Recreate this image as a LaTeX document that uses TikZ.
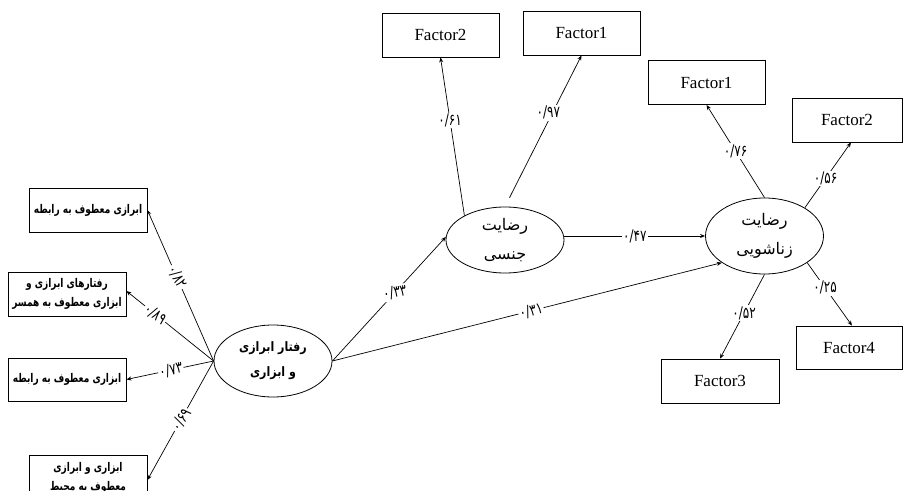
\documentclass[tikz,border=0pt]{standalone}
\usepackage{fontspec}
\setmainfont{Liberation Serif}
\newfontfamily\fa[Script=Arabic]{DejaVu Sans}
\newfontfamily\fan[Script=Arabic,FakeStretch=0.75]{DejaVu Sans}
\newfontfamily\fae[Script=Arabic,FakeStretch=0.85]{DejaVu Sans}
\newfontfamily\fad[Script=Arabic,FakeStretch=0.75]{DejaVu Sans}
\TeXXeTstate=1
\usetikzlibrary{shapes.geometric,arrows.meta,calc}
\tikzset{
 fbox/.style={draw, line width=0.8pt, minimum width=117pt, minimum height=44pt, inner sep=0pt, font=\fontsize{17}{20}\selectfont},
 pbox/.style={draw, line width=0.8pt, minimum width=118pt, minimum height=44pt, inner sep=0pt, align=center, font=\fan\bfseries\fontsize{12}{19}\selectfont},
 lat/.style={draw, ellipse, line width=0.8pt, minimum width=118pt, inner sep=0pt, align=center, font=\fa\fontsize{16}{29}\selectfont},
 arr/.style={line width=0.7pt, -{Stealth[length=5pt,width=4pt]}},
 lab/.style={fill=white, inner sep=1.2pt, font=\fad\fontsize{16}{17}\selectfont},
}
\begin{document}
\begin{tikzpicture}[x=1pt,y=-1pt]
\useasboundingbox (0,0) rectangle (904,497);
% top factors
\node[fbox] (f2t) at (440.5,35) {Factor2};
\node[fbox] (f1t) at (581.5,33) {Factor1};
% right factors
\node[fbox] (f1r) at (706.5,82.5) {Factor1};
\node[fbox, minimum width=110pt] (f2r) at (847,120) {Factor2};
\node[fbox, minimum width=118pt] (f3r) at (720,381) {Factor3};
\node[fbox, minimum width=106pt, minimum height=43pt] (f4r) at (849,347.5) {Factor4};
% left boxes
\node[pbox] (b1) at (88,210) {\beginR ابرازی معطوف به رابطه\endR};
\node[pbox] (b2) at (67,294) {\beginR رفتارهای ابرازی و\endR\\\beginR ابزاری معطوف به همسر\endR};
\node[pbox, minimum height=43pt] (b3) at (67,379.5) {\beginR ابزاری معطوف به رابطه\endR};
\begin{scope}
\clip (0,0) rectangle (904,490);
\node[pbox, minimum height=46pt] (b4) at (88,478) {\beginR ابزاری و ابرازی\endR\\\beginR معطوف به محیط\endR};
\end{scope}
% latent variables
\node[lat, minimum height=72pt, font=\fae\bfseries\fontsize{13}{25}\selectfont] (e1) at (273,361) {\beginR رفتار ابرازی\endR\\\beginR و ابزاری\endR};
\node[lat, minimum height=66pt] (e2) at (505,240) {\beginR رضایت\endR\\\beginR جنسی\endR};
\node[lat, minimum height=76pt] (e3) at (764.5,236) {\beginR رضایت\endR\\\beginR زناشویی\endR};
% left loadings
\draw[arr] (e1.west) -- node[lab, pos=0.58, rotate=-62, xshift=4pt] {۰/۸۲} (b1.east);
\draw[arr] (e1.west) -- node[lab, pos=0.67, rotate=-37] {۰/۸۹} ([yshift=3pt]b2.east);
\draw[arr] (e1.west) -- node[lab, pos=0.49, rotate=12] {۰/۷۳} (b3.east);
\draw[arr] (e1.west) -- node[lab, pos=0.53, rotate=58, xshift=5pt] {۰/۶۹} ([yshift=-2pt]b4.east);
% structural paths
\draw[arr] (e1.east) -- node[lab, pos=0.55, rotate=10] {۰/۳۳} (e2.177);
\draw[arr] (e1.east) -- node[lab, pos=0.51, rotate=14] {۰/۳۱} (e3.212);
\draw[arr] (e2.east |- e3.west) -- node[lab, pos=0.5] {۰/۴۷} (e3.west);
% top loadings
\draw[arr] (e2.149) -- node[lab, pos=0.6] {۰/۶۱} (f2t.south);
\draw[arr, shorten <=10pt] (e2.north) -- node[lab, pos=0.62, xshift=-4pt] {۰/۹۷} (f1t.south);
% right loadings
\draw[arr] (e3.north) -- node[lab, pos=0.5] {۰/۷۶} (f1r.south);
\draw[arr] (e3.35) -- node[lab, pos=0.45] {۰/۵۶} ([xshift=4pt]f2r.south);
\draw[arr] (e3.south) -- node[lab, pos=0.46] {۰/۵۲} (f3r.north);
\draw[arr] (e3.-32) -- node[lab, pos=0.4] {۰/۲۵} ([xshift=3pt]f4r.north);
\end{tikzpicture}
\end{document}
